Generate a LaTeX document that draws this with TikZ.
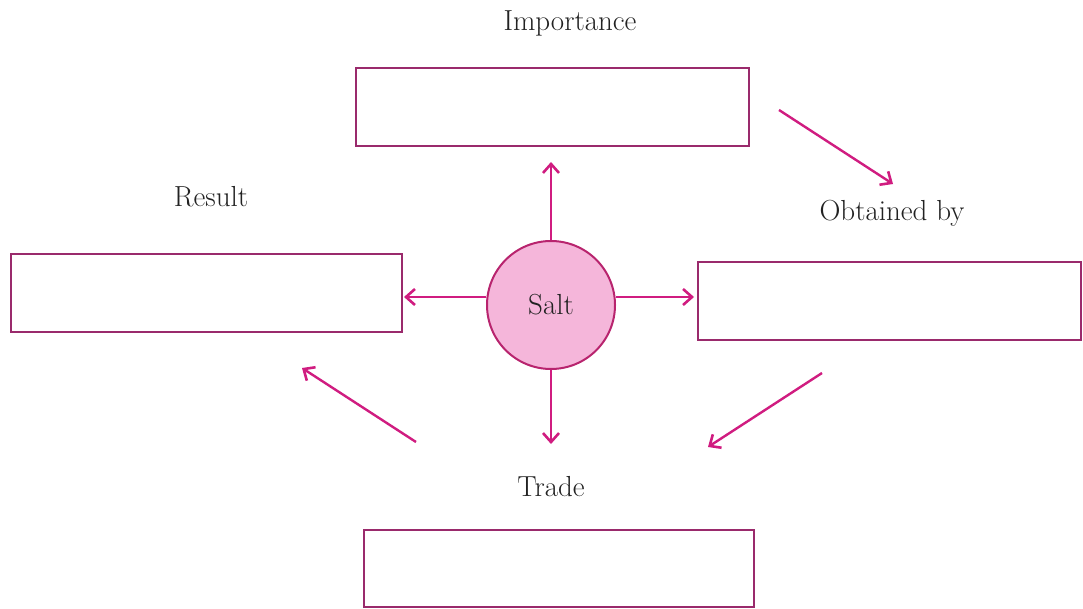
\documentclass[tikz,border=0pt]{standalone}
\usetikzlibrary{arrows.meta}
\definecolor{boxline}{HTML}{9A2A6C}
\definecolor{arrowc}{HTML}{D01C80}
\definecolor{circfill}{HTML}{F5B6DA}
\definecolor{circline}{HTML}{B8246E}
\definecolor{txt}{HTML}{222222}
\begin{document}
\begin{tikzpicture}[x=1pt,y=-1pt,
  blank/.style={draw=boxline,line width=2pt,fill=white,rectangle,inner sep=0pt},
  lab/.style={text=txt,font=\fontsize{29}{34}\selectfont,inner sep=0pt},
  conn/.style={draw=arrowc,line width=2.4pt,-{Straight Barb[length=9pt,width=16pt,line width=2.6pt]}}]
\useasboundingbox (0,0) rectangle (1083,609);
\node[blank,minimum width=393pt,minimum height=78pt] (imp) at (552.5,107) {};
\node[blank,minimum width=391pt,minimum height=78pt] (res) at (206.5,293) {};
\node[blank,minimum width=383pt,minimum height=78pt] (obt) at (889.5,301) {};
\node[blank,minimum width=390pt,minimum height=77pt] (tra) at (559,568.5) {};
\node[circle,draw=circline,fill=circfill,line width=2pt,minimum size=128pt,inner sep=0pt,lab] (salt) at (551,305) {Salt};
\node[lab] (limp) at (570,23) {Importance};
\node[lab] (lres) at (211,197) {Result};
\node[lab] (lobt) at (892,213) {Obtained by};
\node[lab] (ltra) at (551,487) {Trade};
\coordinate (upend) at (551,162);
\coordinate (leftend) at (404,297);
\coordinate (rightend) at (694,297);
\coordinate (downend) at (551,444);
\draw[conn] (salt.north) -- (upend);
\draw[conn] (salt.west |- leftend) -- (leftend);
\draw[conn] (salt.east |- rightend) -- (rightend);
\draw[conn] (salt.south) -- (downend);
\coordinate (a1s) at (779,110); \coordinate (a1e) at (893,184);
\coordinate (a2s) at (822,373); \coordinate (a2e) at (708,447);
\coordinate (a3s) at (416,442); \coordinate (a3e) at (302,368);
\draw[conn] (a1s) -- (a1e);
\draw[conn] (a2s) -- (a2e);
\draw[conn] (a3s) -- (a3e);
\end{tikzpicture}
\end{document}
